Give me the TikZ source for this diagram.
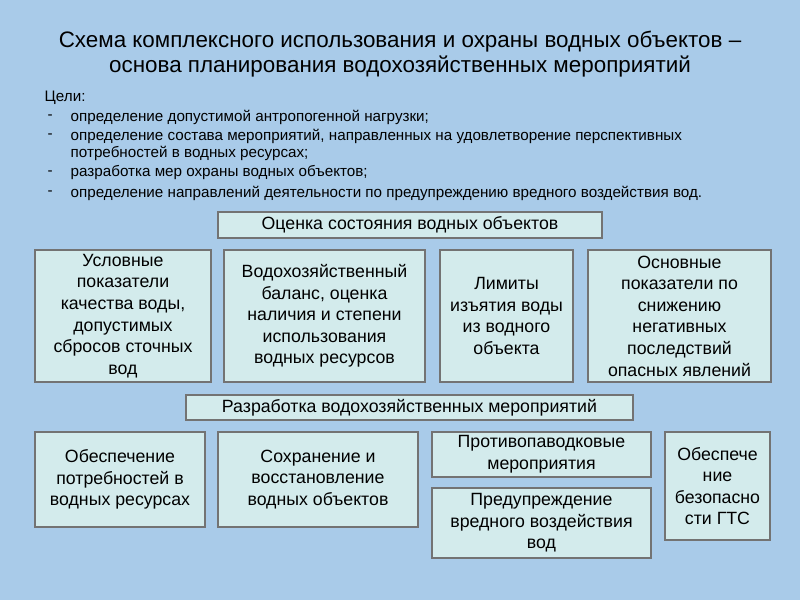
\documentclass[tikz,border=0pt]{standalone}
\usepackage{fontspec}
\setmainfont{Liberation Sans}
\begin{document}
\begin{tikzpicture}[x=0.75pt,y=-0.75pt,
  bx/.style 2 args={draw=black!55,line width=0.9pt,fill=boxc,align=center,inner sep=2pt,font=\fontsize{13.3}{16.2}\selectfont,minimum width=#1*0.75pt,minimum height=#2*0.75pt},
  lst/.style={anchor=west,font=\fontsize{11.4}{13.2}\selectfont,align=left}]
\definecolor{bg}{HTML}{A9CBE9}
\definecolor{boxc}{HTML}{D3EBEC}
\fill[bg] (0,0) rectangle (800,600);
\useasboundingbox (0,0) rectangle (800,600);
\node (t1) at (400,42) {\fontsize{16.8}{20}\selectfont Схема комплексного использования и охраны водных объектов --};
\node (t2) at (400,67) {\fontsize{16.8}{20}\selectfont основа планирования водохозяйственных мероприятий};
\node[lst] (g0) at (40,98) {Цели:};
\foreach \y/\t [count=\i] in {117/{определение допустимой антропогенной нагрузки;},
  136/{определение состава мероприятий, направленных на удовлетворение перспективных},
  153/{потребностей в водных ресурсах;},
  173/{разработка мер охраны водных объектов;},
  193/{определение направлений деятельности по предупреждению вредного воздействия вод.}}
  {\node[lst] (g\i) at (66,\y) {\t};}
\foreach \y [count=\i] in {117,136,173,193} {\node[lst] (d\i) at (43,\y) {-};}
\node[bx={384}{26}] (h1) at (410,225) {Оценка состояния водных объектов};
\node[bx={176}{132}] (a1) at (123,316) {Условные\\показатели\\качества воды,\\допустимых\\сбросов сточных\\вод};
\node[bx={201}{132}] (a2) at (324.5,316) {Водохозяйственный\\баланс, оценка\\наличия и степени\\использования\\водных ресурсов};
\node[bx={133}{132}] (a3) at (506.5,316) {Лимиты\\изъятия воды\\из водного\\объекта};
\node[bx={183}{132}] (a4) at (679.5,316) {Основные\\показатели по\\снижению\\негативных\\последствий\\опасных явлений};
\node[bx={447}{25}] (h2) at (409.5,407.5) {Разработка водохозяйственных мероприятий};
\node[bx={170}{95}] (b1) at (120,479.5) {Обеспечение\\потребностей в\\водных ресурсах};
\node[bx={200}{95}] (b2) at (318,479.5) {Сохранение и\\восстановление\\водных объектов};
\node[bx={219}{45}] (b3) at (541.5,454.5) {Противопаводковые\\мероприятия};
\node[bx={219}{70}] (b4) at (541.5,523) {Предупреждение\\вредного воздействия\\вод};
\node[bx={105}{108}] (b5) at (717.5,486) {Обеспече\\ние\\безопасно\\сти ГТС};
\end{tikzpicture}
\end{document}
